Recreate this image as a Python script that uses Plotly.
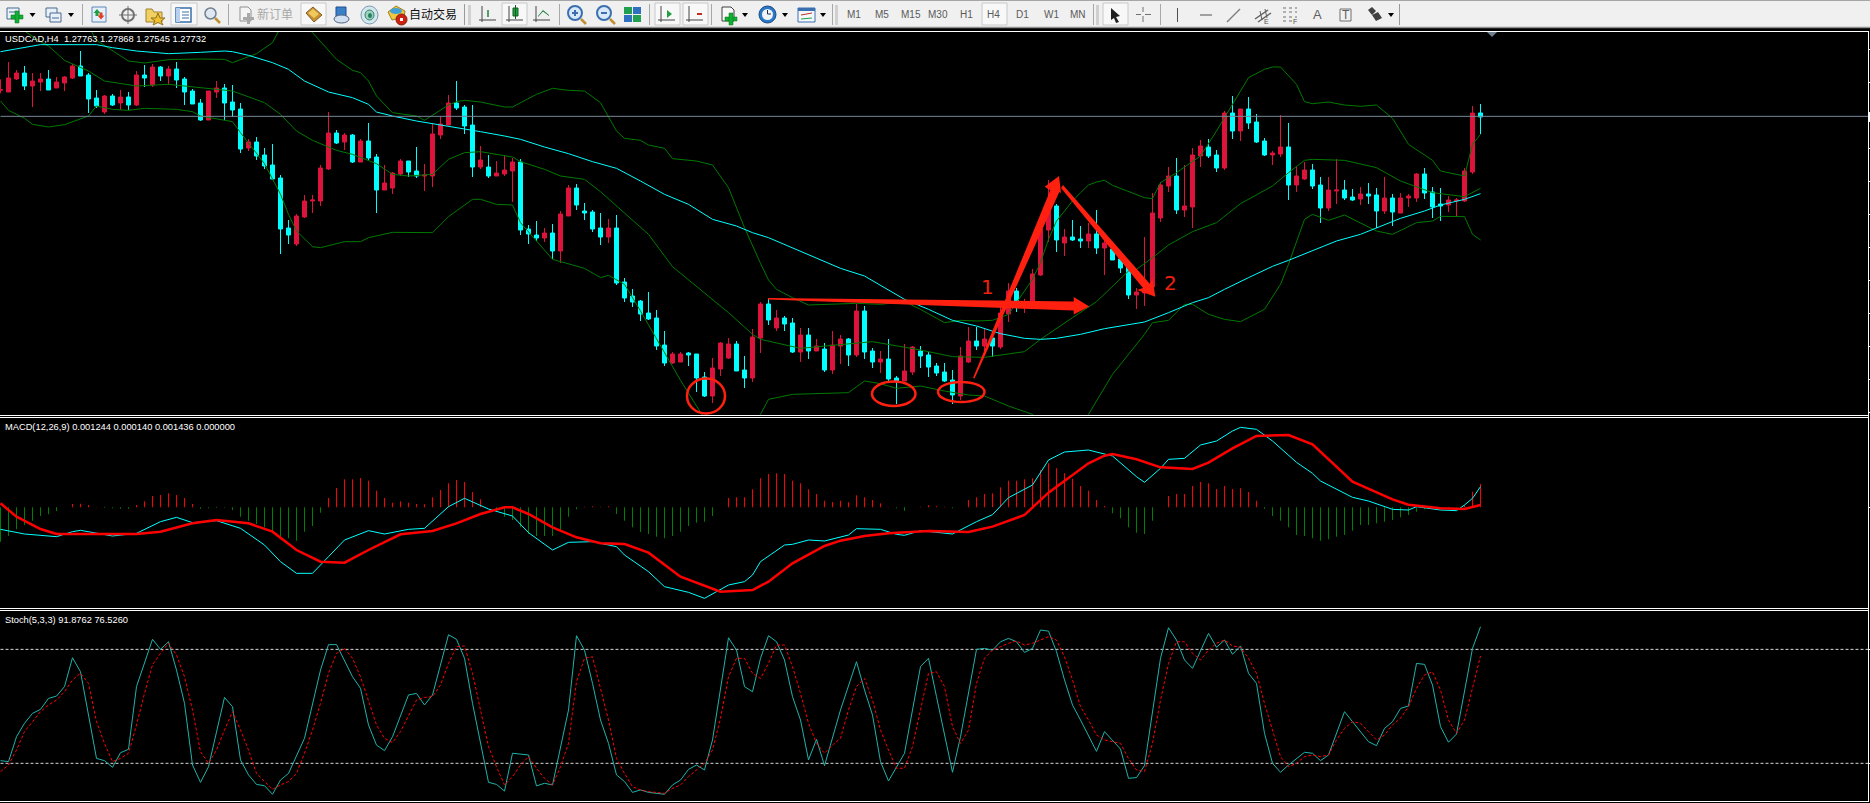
import plotly.graph_objects as go

W, H = 1870, 803

# ---------- chart data (price pane is in unlabelled chart units, 1 unit = 1/3 pixel of the terminal) ----------
SYMBOL_LABEL = "USDCAD,H4  1.27763 1.27868 1.27545 1.27732"
MACD_LABEL = "MACD(12,26,9) 0.001244 0.000140 0.001436 0.000000"
STOCH_LABEL = "Stoch(5,3,3) 91.8762 76.5260"
TIMEFRAMES = [("M1", 854), ("M5", 881.7), ("M15", 910.7), ("M30", 938.3), ("H1", 966.3),
              ("H4", 993.7), ("D1", 1022.3), ("W1", 1051.7), ("MN", 1077.7)]

OPEN = [977,972,1011,1029,990,1002,1011,984,999,1014,1050,1023,954,912,960,939,957,933,1023,993,
        1047,1020,1041,1011,975,939,888,972,984,942,921,804,822,783,753,714,564,516,597,645,
        645,741,849,822,843,762,825,777,678,684,726,765,735,720,720,843,873,939,927,873,
        747,747,720,726,735,762,561,543,534,549,495,600,684,615,612,564,537,564,402,360,
        345,309,294,213,159,162,189,186,117,60,141,174,216,138,114,234,336,264,294,279,
        192,243,195,201,138,210,231,183,315,195,162,171,114,105,132,195,183,150,132,108,
        60,162,225,210,234,207,306,375,327,327,423,558,630,519,537,531,525,546,504,501,
        471,447,363,369,387,594,690,720,618,627,780,807,783,744,909,855,921,882,825,783,
        786,807,693,711,738,693,624,675,678,657,651,666,663,615,654,609,654,654,726,672,
        636,633,645,645,732,909]
HIGH = [1010,1062,1038,1050,1029,1029,1038,1017,1020,1056,1095,1029,978,963,966,978,972,1035,1053,1056,
        1050,1050,1062,1017,981,951,975,1005,996,993,939,831,837,804,816,723,588,606,663,663,
        753,912,858,849,846,831,879,786,753,732,771,765,807,756,879,900,963,1005,933,933,
        810,783,765,783,774,771,573,585,564,576,615,693,696,639,618,609,591,603,414,381,
        348,372,318,255,192,192,192,186,132,174,222,234,225,180,261,342,354,318,300,294,
        264,264,231,219,255,243,234,336,330,204,195,231,120,216,210,210,192,159,159,138,
        207,267,267,261,255,335,399,384,352,441,561,708,636,561,588,570,579,618,537,522,
        495,465,384,537,669,702,747,774,753,804,828,831,798,915,960,921,957,906,834,795,
        903,879,750,762,756,717,717,771,708,681,687,699,684,717,666,669,666,729,744,687,
        684,660,654,744,930,936]
LOW = [968,972,1008,978,927,975,978,984,975,1011,1020,909,924,906,930,918,918,930,987,987,
       1005,993,984,933,936,885,888,954,888,897,789,795,768,741,708,486,516,510,594,609,
       630,738,816,798,759,762,768,609,678,666,720,717,714,675,687,831,873,918,846,717,
       741,714,720,720,642,543,516,525,522,471,459,600,618,588,552,513,519,393,342,327,
       285,288,198,150,156,162,150,72,57,39,120,171,135,84,102,189,273,255,255,189,
       162,171,195,132,126,156,150,177,171,144,129,105,36,105,123,144,117,120,102,36,
       48,159,198,195,177,201,282,312,309,324,420,522,492,480,525,504,504,486,423,468,
       429,351,321,330,387,582,672,606,597,564,747,774,732,738,831,825,861,819,780,753,
       777,648,672,708,681,579,615,636,648,645,633,636,564,606,570,609,627,642,651,594,
       585,612,600,642,726,846]
CLOSE = [979,1014,1029,990,1005,1011,978,1002,1017,1050,1020,951,930,960,933,957,933,1023,1014,1047,
         1020,1041,1008,972,936,888,975,984,939,918,801,822,780,750,711,561,543,600,645,648,
         744,849,819,843,762,825,774,678,699,729,765,732,720,723,846,876,939,924,870,747,
         768,720,729,738,762,558,546,534,549,495,606,684,633,609,561,537,564,399,354,342,
         306,291,210,159,186,186,183,114,60,144,219,216,135,114,237,336,288,294,276,192,
         243,195,210,138,213,231,183,315,192,162,171,111,105,135,207,180,147,129,105,63,
         180,225,210,231,210,309,375,345,337,426,561,630,528,537,528,525,546,504,519,468,
         444,363,372,375,609,693,720,618,630,783,810,780,744,909,855,921,879,822,783,789,
         807,693,720,738,690,624,678,678,654,648,666,660,615,654,612,654,660,726,669,627,
         630,648,648,735,909,897]
BID_LEVEL = 899

# (bar, value) pairs
MA_LINE = [(0,1093),(4,1110),(5,1114),(12,1114),(14,1105),(17,1095),(21,1087),(25,1091),(28,1095),(29,1093),
           (31,1082),(34,1060),(36,1040),(38,1005),(41,972),(44,955),(46,935),(47,912),(49,900),(52,885),
           (56,870),(60,853),(63,840),(65,830),(68,807),(71,787),(74,763),(77,743),(80,705),(83,665),
           (86,635),(89,590),(92,570),(94,550),(96,535),(99,505),(102,475),(105,443),(108,420),(111,377),
           (113,350),(116,320),(119,287),(122,270),(125,247),(128,233),(130,230),(132,233),(135,245),(138,262),
           (141,275),(143,282),(146,310),(149,340),(151,355),(153,380),(156,415),(159,449),(161,467),(164,495),
           (167,525),(170,545),(172,565),(175,593),(178,615),(180,633),(183,650),(185,667)]
BB_UPPER = [(9,1215),(11,1170),(12,1127),(14,1095),(16,1065),(18,1059),(21,1069),(25,1071),(28,1070),(29,1060),
            (32,1087),(34,1120),(35,1165),(37,1215),(38,1175),(39,1150),(42,1070),(44,1037),(45,1030),(46,1005),
            (47,960),(49,910),(52,900),(53,887),(56,933),(57,943),(58,947),(60,942),(63,927),(64,927),
            (67,965),(69,983),(71,977),(73,975),(75,940),(77,855),(78,833),(80,827),(81,813),(83,803),
            (84,772),(87,765),(89,753),(91,685),(93,565),(95,458),(96,408),(97,380),(99,355),(101,333),
            (104,335),(107,338),(110,335),(113,343),(115,320),(118,280),(120,287),(122,285),(124,287),(126,305),
            (127,340),(128,375),(129,410),(130,460),(131,530),(132,585),(133,615),(134,645),(135,670),(136,693),
            (137,702),(138,707),(139,692),(140,683),(141,675),(143,655),(144,652),(145,700),(147,730),(150,780),
            (152,855),(153,895),(156,1015),(158,1040),(159,1047),(160,1047),(162,995),(163,943),(164,937),(166,942),
            (168,933),(170,929),(172,933),(174,893),(176,815),(179,767),(180,735),(183,720),(184,815),(185,845)]
BB_MID = [(0,1235),(1,1205),(2,1180),(3,1155),(5,1123),(6,1110),(8,1067),(11,1035),(13,1005),(17,990),
          (21,995),(25,985),(29,975),(33,940),(35,905),(37,855),(39,827),(42,797),(44,785),(47,757),
          (49,725),(51,720),(54,725),(56,770),(58,790),(60,793),(64,777),(65,763),(68,740),(70,720),
          (73,710),(75,673),(78,610),(81,545),(84,448),(88,370),(91,310),(93,267),(94,245),(95,230),
          (100,203),(109,223),(115,198),(119,178),(123,176),(128,193),(130,230),(134,295),(137,343),(141,435),
          (142,440),(144,475),(146,513),(149,553),(152,580),(155,637),(159,690),(161,730),(163,767),(164,770),
          (168,767),(172,745),(175,705),(179,670),(183,658),(185,683)]
BB_LOWER = [(0,945),(1,917),(3,893),(4,875),(6,867),(8,874),(11,900),(12,930),(14,920),(16,917),
            (18,923),(22,920),(24,913),(25,900),(29,883),(30,850),(33,757),(35,665),(36,605),(37,555),
            (39,508),(40,505),(43,523),(45,523),(46,535),(49,551),(54,550),(56,598),(59,650),(60,650),
            (62,635),(64,633),(65,580),(67,525),(69,470),(73,443),(75,415),(76,422),(78,395),(80,315),
            (83,190),(85,107),(87,30),(89,-45),(92,-85),(94,-45),(95,5),(96,50),(99,65),(103,67),
            (106,70),(108,105),(110,97),(112,83),(115,90),(118,75),(121,63),(123,60),(126,30),(129,5),
            (131,-45),(134,-45),(136,5),(139,125),(141,185),(143,245),(144,280),(146,287),(148,335),(149,335),
            (151,305),(153,290),(155,283),(158,320),(160,395),(161,455),(163,590),(164,605),(166,587),(168,603),
            (172,555),(174,545),(177,580),(179,585),(180,599),(183,598),(184,545),(185,528)]

# MACD pane, in units of 0.00001
MACD_HIST = [-206,-172,-132,-106,-80,-52,-42,-22,0,20,22,14,2,-4,-6,-8,-8,14,36,68,
             74,84,74,56,20,-8,-6,-4,-2,-16,-56,-80,-100,-120,-146,-176,-186,-200,-146,-112,
             -32,56,116,168,168,176,160,100,56,28,36,28,20,18,60,104,144,164,152,92,
             48,0,-26,-56,-76,-120,-160,-172,-172,-172,-140,-56,-12,4,6,4,6,-40,-80,-120,
             -148,-160,-176,-186,-172,-146,-112,-92,-86,-52,0,56,60,60,108,174,200,204,200,160,
             144,108,80,40,32,40,30,72,60,44,24,2,-6,-20,0,4,12,6,4,-6,
             0,44,60,80,84,120,160,160,168,174,224,264,234,204,172,128,100,44,8,-36,
             -66,-120,-152,-160,-80,0,68,80,80,128,152,144,110,128,110,114,92,40,-8,-52,
             -80,-120,-166,-172,-186,-200,-192,-176,-166,-140,-106,-106,-96,-86,-76,-60,-46,-26,-12,-8,
             -8,-8,-2,14,94,140]
MACD_MAIN = [(0,-132),(3,-160),(7,-176),(9,-146),(10,-138),(14,-172),(17,-156),(20,-86),(22,-60),(24,-92),
             (27,-80),(30,-126),(33,-226),(35,-326),(37,-396),(39,-396),(41,-296),(43,-196),(46,-140),(48,-160),
             (51,-132),(53,-126),(56,4),(58,54),(61,-10),(64,-52),(66,-152),(69,-256),(71,-210),(74,-206),
             (77,-236),(78,-286),(81,-386),(83,-476),(86,-510),(88,-546),(91,-466),(93,-446),(94,-406),(95,-326),
             (98,-226),(99,-222),(101,-196),(103,-202),(106,-166),(107,-128),(110,-132),(112,-162),(113,-168),(115,-140),
             (119,-160),(122,-86),(124,-44),(126,58),(129,134),(131,284),(133,332),(136,344),(139,308),(142,184),
             (143,150),(145,234),(146,288),(148,294),(150,374),(152,398),(154,458),(155,480),(157,468),(159,398),
             (162,270),(164,204),(165,158),(169,60),(171,38),(174,-12),(176,-16),(177,4),(180,-16),(182,-20),
             (183,14),(184,54),(185,124)]
MACD_SIGNAL = [(0,24),(2,-56),(5,-130),(7,-160),(17,-160),(20,-146),(24,-96),(27,-76),(31,-96),(34,-146),
               (37,-256),(40,-326),(43,-332),(46,-256),(50,-162),(54,-142),(57,-96),(60,-40),(63,0),(64,0),
               (66,-40),(69,-120),(72,-180),(75,-216),(78,-220),(81,-272),(85,-416),(90,-506),(94,-496),(96,-446),
               (99,-336),(103,-232),(105,-200),(108,-172),(111,-156),(116,-142),(121,-148),(124,-116),(128,-46),(131,88),
               (136,264),(138,310),(139,320),(142,288),(145,240),(149,230),(151,268),(154,354),(157,428),(161,434),
               (164,378),(169,154),(174,48),(176,16),(180,-6),(183,-10),(185,14)]

# Stochastic pane
STOCH_MAIN = [(0,21.4),(1,20.9),(2,34.0),(3,41.1),(4,46.3),(5,48.4),(6,54.2),(7,55.4),(8,60.4),(9,75.6),
              (10,68.2),(11,44.6),(12,22.6),(13,21.4),(14,17.9),(15,25.6),(16,27.4),(17,60.4),(19,85.3),(20,80),
              (21,84),(22,69.1),(23,51.6),(24,19.1),(25,10),(26,18.2),(28,54.7),(29,49.8),(30,21.8),(31,13.9),
              (32,8.9),(33,8.2),(34,3.7),(35,11.2),(36,14.7),(38,33.2),(40,69.1),(41,82.5),(42,82.5),(44,65.6),
              (45,59.5),(46,40.2),(47,29.6),(48,26.7),(49,34),(51,56),(52,56.8),(53,50.7),(54,56),(56,87.7),
              (57,85.3),(58,75.3),(59,51.6),(61,10),(62,8.9),(63,5.4),(64,25.3),(66,24.4),(67,8.1),(68,9.5),
              (69,8.6),(71,48.1),(72,87.2),(73,79.6),(74,62.1),(75,42.8),(76,30.5),(77,13.9),(78,10.4),(79,4.7),
              (80,6),(81,4.7),(83,3.7),(84,8.6),(85,11.2),(86,16.8),(87,19.1),(88,16.5),(89,32.3),(91,86.1),
              (92,79.6),(93,60.4),(94,57.7),(95,75.3),(96,87.2),(97,84),(98,74.4),(99,55.1),(100,42.8),(101,21.8),
              (102,32.6),(103,18.8),(105,48.1),(107,73.5),(108,58.6),(109,45.4),(110,20.9),(111,10.7),(113,25.3),(115,70.9),
              (116,75.3),(117,55.1),(119,15.3),(120,34),(122,80),(123,80.5),(124,79.6),(125,84),(126,85.8),(127,84),
              (128,78.4),(129,80.5),(130,90.2),(131,89.6),(132,78.8),(133,63.9),(134,50.7),(135,42.8),(137,26.3),(138,36.7),
              (139,32.3),(140,27.5),(141,12.1),(142,12.5),(143,18.8),(145,75.3),(146,91.4),(147,84.9),(148,74.4),(149,70),
              (151,88.4),(152,81.1),(153,84.9),(154,77.4),(155,81.8),(156,67.4),(157,62.1),(158,35.8),(159,20),(160,15.3),
              (161,19.1),(162,22.6),(163,25.8),(164,25.3),(165,21.4),(166,24.4),(168,47.2),(169,41.9),(171,31.4),(172,29.3),
              (173,38.4),(174,41.9),(175,48.9),(176,50.2),(177,72.6),(178,72.1),(179,61.2),(180,39.3),(181,31.1),(182,35.4),
              (184,80.5),(185,91.9)]
STOCH_SIGNAL = [15.6,19.1,27,36.7,41.9,47.2,50.7,53.3,57.7,63.9,67.4,62.1,41.9,30.5,20.9,22.6,25.3,40.2,56.8,71.8,
                77.9,83.2,77,65.6,48.1,26.1,20,27,37.5,47.2,37.5,27,14.7,10.4,6.3,8.6,10.4,14.7,25.3,37.5,
                51.6,67.4,77.9,80.5,75.3,65.6,53.3,40.2,33.2,30.9,36.7,45.4,53.3,54.7,55.1,61.2,72.6,81.4,81.8,67.4,
                48.9,28.8,18.2,8.6,13,19.1,23.5,17.4,12.1,8.6,18.2,30.5,63,75.3,76.1,59.5,42.8,22.6,14.7,7.7,
                6,5.1,4.7,4.2,6.8,8.6,13,16.5,20,27,43.7,65.6,75.3,75.3,67.4,64.7,72.6,82.3,82.3,70.9,
                56.8,41.1,30.5,25.3,29.6,33.2,48.1,60.4,64.7,53.3,37.5,27,17.4,17.4,28.8,48.1,67.4,68.2,60.4,39.3,
                30.5,37.5,62.1,75.3,79.6,81.4,83.2,84.4,82.3,83.2,84.9,86.7,84.9,76.1,63.9,49.8,42.8,34.9,32.3,31.4,
                30.5,22.6,16.5,15.6,30.5,53.3,72.6,84,84,77.9,74.4,79.6,83.2,84.9,81.8,81.1,75.3,67.4,51.6,37.5,
                23.5,18.2,20,23.5,24.4,23.5,24.4,32.3,38.4,41.9,41.1,36.7,32.3,34.9,40.2,43.7,49.8,59.5,66.5,68.2,
                58.6,42.8,35.8,42.8,60.4,76.5]

BARS = list(range(len(OPEN)))
assert all(len(a) == len(OPEN) for a in (HIGH, LOW, CLOSE, MACD_HIST, STOCH_SIGNAL))

# ---------- page geometry helpers (terminal chrome only) ----------
def fx(x): return x / W
def fy(y): return 1 - y / H

shapes = []
def rect(x0, y0, x1, y1, fill=None, line=None, lw=1):
    shapes.append(dict(type="rect", xref="paper", yref="paper", x0=fx(x0), x1=fx(x1), y0=fy(y0), y1=fy(y1),
                       fillcolor=fill or "rgba(0,0,0,0)", line=dict(color=line or "rgba(0,0,0,0)", width=lw if line else 0), layer="above"))
def seg(x0, y0, x1, y1, color, lw=1, dash=None):
    shapes.append(dict(type="line", xref="paper", yref="paper", x0=fx(x0), x1=fx(x1), y0=fy(y0), y1=fy(y1),
                       line=dict(color=color, width=lw, dash=dash or "solid"), layer="above"))
def oval(x0, y0, x1, y1, fill=None, line=None, lw=1):
    shapes.append(dict(type="circle", xref="paper", yref="paper", x0=fx(x0), x1=fx(x1), y0=fy(y0), y1=fy(y1),
                       fillcolor=fill or "rgba(0,0,0,0)", line=dict(color=line or "rgba(0,0,0,0)", width=lw if line else 0), layer="above"))
def poly(pts, fill, line=None, lw=1):
    path = "M " + " L ".join(f"{fx(x)} {fy(y)}" for x, y in pts) + " Z"
    shapes.append(dict(type="path", xref="paper", yref="paper", path=path, fillcolor=fill,
                       line=dict(color=line or "rgba(0,0,0,0)", width=lw if line else 0), layer="above"))
def drop(x, y=15):
    poly([(x - 3, y - 2), (x + 3, y - 2), (x, y + 2)], "#000000")
def sep(x, color="#a8a8a8"):
    seg(x, 4, x, 25, color)
def grip(x):
    for yy in range(6, 25, 2):
        seg(x, yy, x + 3, yy, "#b0b0b0")
def button(x0, x1):
    rect(x0, 3, x1, 25, "#f8f8f8", "#c8c8c8")
def plus(cx, cy, r=5, t=2.5):
    rect(cx - r, cy - t, cx + r, cy + t, "#10b030", "#0a7020", 0.5)
    rect(cx - t, cy - r, cx + t, cy + r, "#10b030", "#0a7020", 0.5)
def axes_icon(cx):
    seg(cx - 6, 6, cx - 6, 22, "#444444")
    seg(cx - 9, 20, cx + 8, 20, "#444444")

# toolbar
rect(0, 0, W, 28, "#f0f0f0")
seg(0, 0.5, W, 0.5, "#a6a6a6")
seg(0, 27.5, W, 27.5, "#8f8f8f", 1.5)
rect(0, 29, W, 31, "#000000")

rect(7, 8, 19, 19, "#e8f0f8", "#4a6a90"); seg(9, 12, 16, 12, "#4a6a90"); plus(17, 17, 6, 2)
drop(32.5)
rect(46, 8, 57, 17, "#e8f0f8", "#4a6a90"); rect(50, 13, 61, 22, "#e8f0f8", "#4a6a90"); seg(52, 18, 59, 18, "#4a6a90")
drop(71)
sep(82.5)
rect(92, 7, 106, 22, "#e6f0fa", "#5a88b8")
poly([(97, 9), (100.5, 13), (98.5, 13), (98.5, 16), (95.5, 16), (95.5, 13), (93.5, 13)], "#20a040")
poly([(101, 19.5), (97.5, 15.5), (99.5, 15.5), (99.5, 12.5), (102.5, 12.5), (102.5, 15.5), (104.5, 15.5)], "#e04020")
oval(122, 9, 134, 21, None, "#707070", 2); seg(128, 6, 128, 24, "#707070"); seg(119, 15, 137, 15, "#707070")
poly([(146, 9), (152, 9), (154, 12), (162, 12), (162, 22), (146, 22)], "#f0d060", "#a08030")
poly([(158, 13), (160, 18), (165, 18), (161, 21), (163, 25), (158, 22.5), (153, 25), (155, 21), (151, 18), (156, 18)], "#f0c030", "#907020")
button(171, 197)
rect(176, 8, 191, 22, "#ffffff", "#3a6ea8", 1.5); rect(176, 8, 180, 22, "#b8d0f0"); seg(182, 12, 189, 12, "#3a6ea8"); seg(182, 15, 189, 15, "#3a6ea8"); seg(182, 18, 189, 18, "#3a6ea8")
oval(205, 8, 216, 19, "#dfe8f0", "#708090", 1.5); seg(215, 18, 220, 23, "#c09030", 2.5)
sep(228.5)
poly([(240, 7), (248, 7), (251, 10), (251, 21), (240, 21)], "#f4f4f4", "#909090")
rect(243, 17, 254, 20, "#a8a8a8"); rect(247, 13, 250, 24, "#a8a8a8")
button(301, 326)
poly([(306, 13), (313, 7), (322, 15), (314, 22)], "#c89030", "#806020"); poly([(308, 13), (313, 9), (319, 14), (314, 18)], "#f0c860")
rect(336, 7, 346, 17, "#3a80c8", "#205090"); oval(334, 15, 349, 23, "#d0e0f0", "#506080")
oval(361, 6, 378, 24, "#d0e8f0", "#8098a8"); oval(365, 10, 374, 20, "#a0d0c0", "#408060"); oval(368, 13, 372, 18, "#208060")
poly([(388, 12), (396, 6), (405, 11), (404, 17), (392, 20)], "#f0c840", "#a08020"); oval(390, 8, 402, 14, "#40a0d8")
oval(396, 14, 407, 25, "#d02010", "#802010"); rect(400, 18, 403, 21, "#ffffff")
sep(464.5, "#9a9a9a"); grip(468)
axes_icon(488); seg(488, 10, 488, 17, "#208040", 1.5)
button(502, 527); axes_icon(515); rect(513, 8, 518, 16, "#20a040", "#106020"); seg(515.5, 5, 515.5, 19, "#106020")
axes_icon(542); poly([(538, 16), (543, 10), (549, 15), (549, 16), (543, 11.5), (538, 17)], "#208040")
sep(559.5)
oval(568, 6, 582, 20, "#d8e8f8", "#3a70b0", 2); seg(572, 13, 578, 13, "#3a70b0", 2); seg(575, 10, 575, 16, "#3a70b0", 2); seg(581, 19, 586, 24, "#c09030", 2.5)
oval(597, 6, 611, 20, "#d8e8f8", "#3a70b0", 2); seg(601, 13, 607, 13, "#3a70b0", 2); seg(610, 19, 615, 24, "#c09030", 2.5)
rect(624, 7, 632, 14, "#20a050"); rect(633, 7, 641, 14, "#3070c0"); rect(624, 15, 632, 22, "#3070c0"); rect(633, 15, 641, 22, "#20a050")
sep(649.5)
button(655, 680); axes_icon(667); poly([(667, 10), (672, 14), (667, 18)], "#20a040")
button(683, 708); axes_icon(695); rect(697, 13, 702, 15, "#c03020")
sep(711.5)
poly([(722, 7), (731, 7), (734, 10), (734, 21), (722, 21)], "#f8f8f8", "#404040"); plus(731, 19, 6, 2)
drop(745)
oval(759, 6, 776, 23, "#2a78c8", "#184880", 1); oval(762, 9, 773, 20, "#f0f4f8"); seg(767.5, 14, 767.5, 10, "#203040"); seg(767.5, 14, 771, 14, "#203040")
drop(785)
rect(798, 8, 815, 22, "#f4f8fc", "#3a70b0"); rect(798, 8, 815, 11, "#3a70b0"); seg(801, 15, 812, 13, "#c03020"); seg(801, 19, 812, 18, "#20a040")
drop(823)
sep(832.5); grip(835)
button(982, 1007)
sep(1093.5); grip(1096)
button(1103, 1128)
poly([(1111, 8), (1120, 16), (1116, 17), (1119, 22), (1116, 23), (1114, 18), (1111, 20)], "#202020")
seg(1143, 7, 1143, 12, "#707070"); seg(1143, 16, 1143, 22, "#707070"); seg(1136, 14.5, 1141, 14.5, "#707070"); seg(1145, 14.5, 1151, 14.5, "#707070")
sep(1160.5)
seg(1177.5, 8, 1177.5, 22, "#505050")
seg(1200, 15, 1212, 15, "#505050")
seg(1227, 22, 1240, 9, "#808080", 1.5)
seg(1255, 19, 1268, 10, "#606060", 1.5); seg(1258, 22, 1271, 13, "#606060", 1.5); seg(1260, 11, 1262, 20, "#606060"); seg(1265, 9, 1267, 18, "#606060")
seg(1283, 8, 1297, 8, "#707070", 1, "dot"); seg(1283, 12, 1297, 12, "#707070", 1, "dot"); seg(1283, 17, 1297, 17, "#707070", 1, "dot"); seg(1283, 21, 1293, 21, "#707070", 1, "dot")
rect(1340, 9, 1351, 21, None, "#707070")
poly([(1368, 10), (1372, 7), (1376, 11), (1372, 15)], "#404040"); poly([(1372, 15), (1378, 12), (1382, 18), (1376, 21)], "#404040")
drop(1391)
sep(1399.5, "#9a9a9a")

# pane frames
FRAME = "#ffffff"
seg(0, 31.5, 1868, 31.5, FRAME)
seg(0, 415.5, 1868, 415.5, FRAME)
seg(0, 417.5, 1868, 417.5, FRAME)
seg(0, 608.5, 1868, 608.5, FRAME)
seg(0, 610.5, 1868, 610.5, FRAME)
seg(0, 801.5, 1868, 801.5, FRAME)
seg(1868.5, 31, 1868.5, 802, FRAME)
rect(1868, 112, 1870, 122, "#ffffff")
poly([(1487, 32), (1497, 32), (1492, 37)], "#708090")

# hand-drawn marks
RED = "#ff2010"
oval(687, 378.5, 725, 413.5, None, RED, 2.5)
oval(872, 381.5, 915.5, 406, None, RED, 2.5)
oval(938, 382, 984.5, 402, None, RED, 2.5)
poly([(768, 298), (1073.7, 301.5), (1073.7, 297), (1089.3, 306.5), (1073.7, 314.5), (1073.7, 310.5), (768, 299.5)], RED)
poly([(973, 378), (1050.3, 190.3), (1044.7, 186.7), (1059, 176), (1061, 193), (1059.3, 192), (974.5, 378.5)], RED)
poly([(1063, 185), (1150, 284), (1152.5, 278), (1155.3, 296.7), (1137, 290), (1143, 288), (1061, 188)], RED)

# ---------- traces ----------
fig = go.Figure()

def pairs(p):
    return [a for a, _ in p], [b for _, b in p]

for name, series, color in [("BB upper", BB_UPPER, "#007a00"), ("BB mid", BB_MID, "#007a00"),
                            ("BB lower", BB_LOWER, "#007a00"), ("MA", MA_LINE, "#00ffff")]:
    xs, ys = pairs(series)
    fig.add_trace(go.Scatter(x=xs, y=ys, mode="lines", name=name, line=dict(color=color, width=1), xaxis="x", yaxis="y"))

fig.add_trace(go.Candlestick(x=BARS, open=OPEN, high=HIGH, low=LOW, close=CLOSE, name="USDCAD",
                             increasing=dict(line=dict(color="#dc143c", width=1), fillcolor="#dc143c"),
                             decreasing=dict(line=dict(color="#00ffff", width=1), fillcolor="#00ffff"),
                             whiskerwidth=0, xaxis="x", yaxis="y"))
fig.add_trace(go.Scatter(x=[BARS[0], 233.5], y=[BID_LEVEL, BID_LEVEL], mode="lines", name="Bid",
                         line=dict(color="#778899", width=1), xaxis="x", yaxis="y"))

fig.add_trace(go.Bar(x=BARS, y=MACD_HIST, width=0.125, name="OsMA",
                     marker=dict(color=["#ff0000" if v > 0 else "#008000" for v in MACD_HIST], line=dict(width=0)),
                     xaxis="x2", yaxis="y2"))
xs, ys = pairs(MACD_MAIN)
fig.add_trace(go.Scatter(x=xs, y=ys, mode="lines", name="MACD", line=dict(color="#00ffff", width=1), xaxis="x2", yaxis="y2"))
xs, ys = pairs(MACD_SIGNAL)
fig.add_trace(go.Scatter(x=xs, y=ys, mode="lines", name="Signal", line=dict(color="#ff0000", width=2.5), xaxis="x2", yaxis="y2"))

fig.add_trace(go.Scatter(x=[0, 233.5], y=[80, 80], mode="lines", name="80", line=dict(color="#d8d8d8", width=1, dash="3px,2px"), xaxis="x3", yaxis="y3"))
fig.add_trace(go.Scatter(x=[0, 233.5], y=[20, 20], mode="lines", name="20", line=dict(color="#d8d8d8", width=1, dash="3px,2px"), xaxis="x3", yaxis="y3"))
xs, ys = pairs(STOCH_MAIN)
fig.add_trace(go.Scatter(x=xs, y=ys, mode="lines", name="%K", line=dict(color="#20b2aa", width=1), xaxis="x3", yaxis="y3"))
fig.add_trace(go.Scatter(x=BARS, y=STOCH_SIGNAL, mode="lines", name="%D", line=dict(color="#ff0000", width=1, dash="3px,2px"), xaxis="x3", yaxis="y3"))

# ---------- text ----------
annotations = []
def label(text, x, y, size=9.3, color="#ffffff", anchor="left", family="Liberation Sans"):
    annotations.append(dict(text=text, x=fx(x), y=fy(y), xref="paper", yref="paper", xanchor=anchor, yanchor="middle",
                            showarrow=False, font=dict(size=size, color=color, family=family), bgcolor="rgba(0,0,0,0)",
                            borderpad=0))
label(SYMBOL_LABEL, 4, 39.5)
label(MACD_LABEL, 4, 426.7)
label(STOCH_LABEL, 4, 619.7)
label("1", 987.3, 286.7, 20, "#f02010", "center", "DejaVu Sans")
label("2", 1170.3, 283.3, 20, "#f02010", "center", "DejaVu Sans")
label("新订单", 275, 14, 12, "#a8a8a8", "center", "Noto Sans CJK SC")
label("自动交易", 433, 14, 12, "#101010", "center", "Noto Sans CJK SC")
for tf, xpos in TIMEFRAMES:
    label(tf, xpos, 15, 10, "#5a5a5a", "center")
label("E", 1266, 21.5, 7, "#505050", "center")
label("F", 1295, 21.5, 7, "#505050", "center")
label("A", 1317, 15, 13, "#606060", "center")
label("T", 1345.5, 15, 12, "#606060", "center")

# ---------- layout ----------
XR = [-0.0625, (1868 - 0.5) / 8]
XDOM = [0, 1868 / W]
common_x = dict(range=XR, domain=XDOM, showgrid=False, zeroline=False, showticklabels=False, showline=False, fixedrange=True)
common_y = dict(showgrid=False, zeroline=False, showticklabels=False, showline=False, side="right",
                ticks="outside", ticklen=2, tickcolor="#ffffff", tickwidth=1, fixedrange=True)

fig.update_layout(
    width=W, height=H, margin=dict(l=0, r=0, t=0, b=0, pad=0), autosize=False,
    paper_bgcolor="#000000", plot_bgcolor="#000000", showlegend=False, hovermode=False,
    barmode="overlay", boxgap=0.5, boxgroupgap=0, dragmode=False,
    xaxis=dict(common_x, anchor="y", ticks="", rangeslider=dict(visible=False)),
    xaxis2=dict(common_x, anchor="y2", ticks=""),
    xaxis3=dict(common_x, anchor="y3", ticks="outside", ticklen=2, tickcolor="#ffffff", tickwidth=1,
                tickmode="array", tickvals=list(range(8, 234, 8))),
    yaxis=dict(common_y, anchor="x", range=[0, 1155], domain=[(H - 416) / H, (H - 31) / H],
               tickmode="array", tickvals=[1101, 1002, 903, 804, 705, 606, 507, 408, 309, 210, 111, 12]),
    yaxis2=dict(common_y, anchor="x2", range=[-607, 536], domain=[(H - 608.5) / H, (H - 418) / H],
                tickmode="array", tickvals=[0]),
    yaxis3=dict(common_y, anchor="x3", range=[-0.1, 100.2], domain=[(H - 801.5) / H, (H - 611) / H],
                tickmode="array", tickvals=[20, 80]),
    shapes=shapes, annotations=annotations,
)

fig.write_html("out.html", config=dict(displayModeBar=False, staticPlot=True),
               post_script="document.body.style.margin='0';document.body.style.background='#000';document.body.style.overflow='hidden';")
